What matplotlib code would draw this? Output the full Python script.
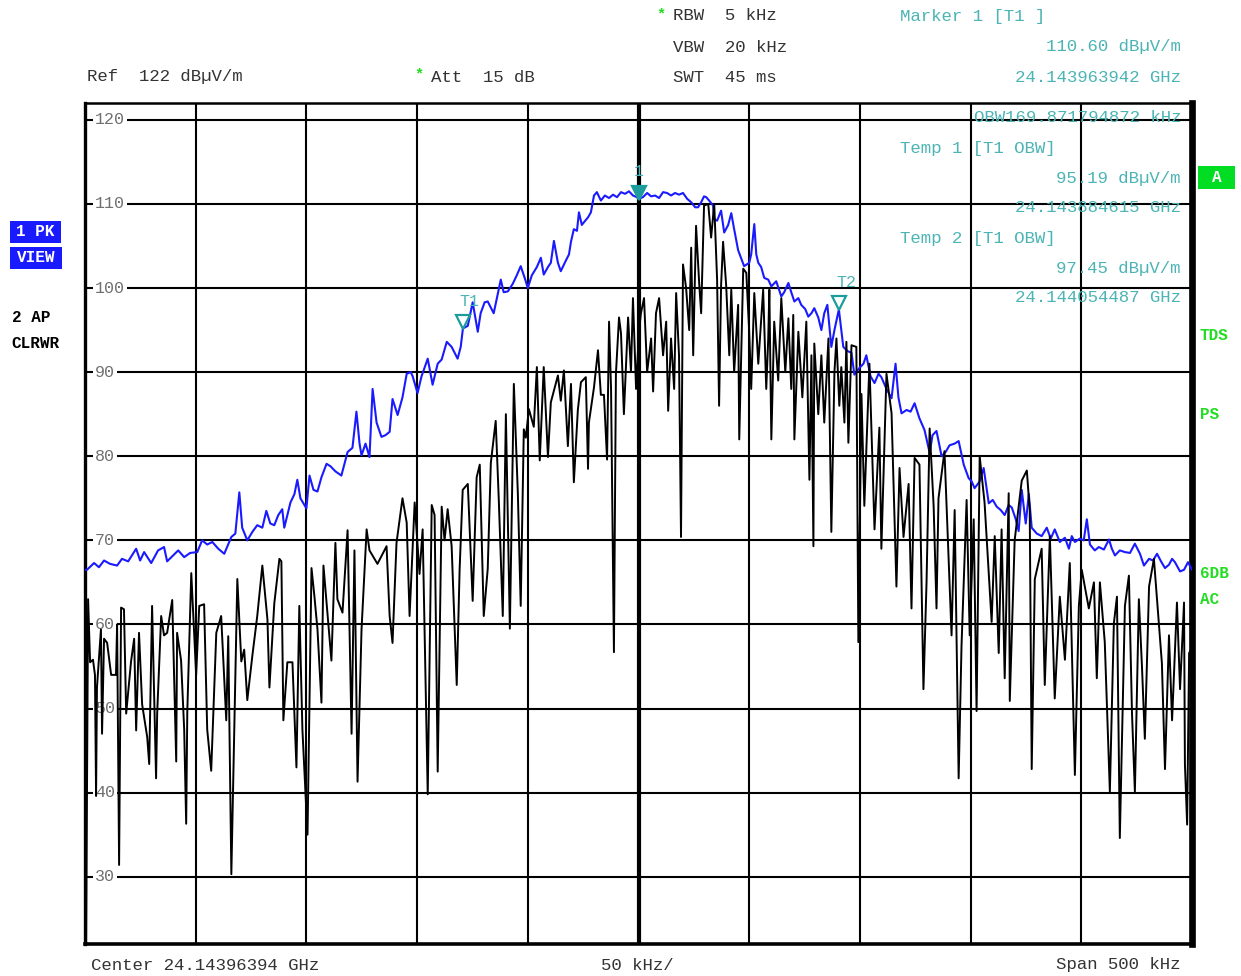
import matplotlib.pyplot as plt
from matplotlib.patches import Rectangle
from matplotlib import transforms

W, H = 1241, 976

CENTER_GHZ = 24.14396394
SPAN_KHZ = 500
REF_LEVEL = 122
Y_BOTTOM = 22
Y_TICKS = [30, 40, 50, 60, 70, 80, 90, 100, 110, 120]

# trace 1 (PK, view / max hold): offset from center in kHz and level in dBuV/m
pk_khz = [-250.0, -249.1, -245.9, -243.7, -241.4, -238.7, -235.5, -233.3, -230.5, -226.9,
          -225.1, -223.3, -220.1, -217.0, -214.3, -212.9, -210.2, -207.9, -205.2, -202.5,
          -199.3, -197.1, -194.8, -192.5, -189.8, -187.1, -183.9, -182.1, -180.3, -179.0,
          -176.7, -174.4, -172.2, -169.9, -168.1, -166.3, -164.5, -162.7, -160.9, -160.0,
          -157.2, -155.4, -154.1, -152.7, -150.0, -148.6, -146.8, -145.0, -143.2, -140.9,
          -139.1, -136.9, -134.2, -131.4, -129.2, -127.4, -126.0, -125.1, -123.3, -121.5,
          -120.1, -118.3, -116.1, -114.3, -112.4, -111.1, -108.8, -106.6, -104.7, -102.9,
          -102.0, -99.8, -98.0, -95.2, -93.0, -90.7, -88.9, -86.6, -84.4, -81.7,
          -80.3, -79.3, -77.1, -74.9, -72.6, -71.3, -69.5, -68.1, -65.4, -62.2,
          -60.9, -59.0, -56.8, -55.0, -53.2, -51.4, -50.0, -48.2, -45.9, -44.1,
          -42.8, -40.9, -39.6, -38.2, -36.4, -35.1, -33.3, -31.4, -30.5, -29.2,
          -27.8, -26.9, -25.6, -24.7, -22.8, -21.5, -20.1, -18.8, -17.0, -15.2,
          -13.3, -11.5, -9.7, -7.9, -6.1, -4.3, -2.5, -0.7, 0.0, 2.0,
          3.9, 5.7, 7.5, 9.3, 11.1, 12.9, 14.7, 16.5, 18.3, 20.1,
          22.0, 23.8, 25.6, 26.9, 28.3, 29.6, 30.6, 31.9, 33.7, 34.2,
          35.5, 37.3, 38.7, 40.5, 41.9, 43.2, 45.0, 46.4, 47.7, 50.0,
          50.9, 52.3, 53.2, 54.1, 55.4, 56.8, 58.6, 60.0, 62.2, 64.5,
          65.8, 67.7, 69.0, 70.4, 72.2, 73.5, 75.3, 76.7, 78.1, 79.4,
          81.2, 82.6, 83.9, 85.3, 87.1, 88.5, 90.5, 92.5, 94.4, 96.2,
          97.5, 99.8, 101.6, 102.9, 104.8, 106.6, 108.4, 109.7, 112.0, 114.3,
          116.1, 117.4, 118.8, 121.1, 122.9, 124.7, 126.9, 129.2, 131.5, 132.8,
          134.6, 136.9, 138.7, 140.5, 142.8, 144.6, 146.9, 149.1, 150.5, 151.8,
          154.1, 155.9, 157.3, 158.2, 160.0, 161.8, 163.6, 165.4, 167.2, 168.6,
          170.4, 171.7, 173.1, 174.9, 176.3, 177.6, 179.9, 182.1, 184.4, 186.2,
          188.0, 190.3, 192.6, 194.4, 195.7, 197.1, 199.3, 201.1, 202.5, 203.9,
          206.1, 207.9, 210.2, 212.5, 213.8, 215.2, 217.4, 219.7, 222.0, 224.2,
          226.5, 228.3, 230.6, 232.4, 234.2, 236.0, 237.8, 239.6, 241.0, 242.3,
          244.6, 246.4, 248.2, 250.0]
pk_dbuv = [66.5, 66.5, 67.3, 66.8, 67.6, 67.2, 67.0, 67.8, 67.5, 69.0,
           67.6, 68.6, 67.3, 68.8, 69.2, 67.5, 68.2, 68.8, 68.0, 68.5,
           68.6, 70.0, 69.5, 69.8, 69.0, 68.4, 70.4, 70.8, 75.7, 71.5,
           70.0, 71.0, 71.8, 71.5, 73.5, 72.0, 71.8, 73.0, 73.7, 71.5,
           74.5, 75.5, 77.2, 75.0, 73.8, 77.7, 76.0, 75.8, 77.5, 79.1,
           78.8, 78.2, 77.7, 80.5, 81.0, 85.3, 81.5, 80.1, 81.5, 79.9,
           88.0, 84.0, 82.3, 82.5, 82.9, 86.8, 84.9, 87.0, 89.8, 90.0,
           89.5, 87.5, 89.5, 91.6, 88.5, 91.0, 91.5, 93.6, 93.0, 91.6,
           93.0, 95.19, 95.5, 98.3, 94.8, 97.0, 98.3, 98.4, 97.0, 101.0,
           99.5, 99.6, 100.5, 101.5, 102.6, 101.2, 100.0, 101.5, 102.5, 103.6,
           101.6, 102.5, 103.0, 105.6, 103.0, 102.0, 103.0, 104.0, 105.5, 107.0,
           106.8, 109.0, 107.5, 107.8, 108.4, 109.0, 111.0, 111.4, 110.4, 111.0,
           110.7, 111.1, 110.8, 111.4, 111.2, 111.5, 111.0, 110.8, 110.6, 110.8,
           111.3, 110.9, 111.0, 110.7, 111.4, 111.3, 111.0, 111.3, 111.1, 111.3,
           110.6, 110.2, 109.6, 109.6, 110.2, 110.9, 110.8, 110.4, 109.8, 108.2,
           108.0, 109.2, 106.6, 107.5, 108.9, 107.0, 104.5, 103.5, 102.6, 103.0,
           104.0, 107.6, 104.0, 103.0, 102.5, 101.2, 101.0, 100.2, 100.8, 99.0,
           99.5, 100.6, 99.5, 98.4, 98.8, 98.0, 97.5, 96.6, 97.0, 97.6,
           96.5, 95.0, 97.0, 98.0, 93.0, 95.0, 97.45, 93.0, 92.5, 92.3,
           89.7, 90.5, 91.0, 92.0, 89.5, 88.7, 89.8, 89.4, 88.0, 86.9,
           91.0, 87.0, 85.1, 85.5, 85.3, 86.3, 84.5, 83.1, 80.4, 82.5,
           83.0, 80.0, 80.5, 81.3, 81.5, 81.8, 79.0, 77.4, 77.0, 76.2,
           77.0, 78.6, 76.0, 74.4, 74.8, 74.0, 73.6, 73.0, 74.2, 73.9,
           72.5, 71.1, 76.0, 72.0, 75.5, 71.5, 70.8, 70.5, 71.5, 70.2,
           71.3, 69.8, 70.3, 69.0, 70.5, 69.8, 70.2, 70.0, 72.5, 69.5,
           68.8, 69.2, 68.9, 70.1, 69.0, 68.2, 68.8, 68.6, 68.5, 69.6,
           68.4, 67.0, 67.8, 67.6, 68.4, 67.5, 66.7, 67.1, 67.8, 67.4,
           66.3, 66.5, 67.4, 66.5]

# trace 2 (AP, clear/write)
ap_khz = [-249.5, -248.6, -247.7, -246.4, -245.5, -245.0, -244.6, -242.8, -242.3, -241.4,
          -240.0, -238.2, -236.0, -235.5, -234.6, -233.7, -232.4, -231.4, -229.2, -227.8,
          -226.9, -225.6, -224.2, -221.9, -221.0, -219.7, -217.9, -217.4, -215.6, -214.3,
          -212.9, -210.6, -208.8, -208.4, -206.6, -205.2, -204.3, -203.8, -202.0, -199.8,
          -198.4, -196.2, -194.8, -193.0, -190.7, -188.5, -186.2, -185.3, -183.9, -181.2,
          -179.4, -178.1, -176.7, -174.4, -172.2, -169.9, -167.6, -166.7, -164.5, -162.2,
          -161.3, -160.4, -158.6, -156.3, -154.5, -153.2, -151.8, -149.5, -147.7, -146.4,
          -145.0, -143.2, -142.3, -138.7, -136.9, -136.0, -133.7, -131.4, -129.6, -128.3,
          -126.9, -125.1, -122.8, -121.5, -117.9, -113.8, -112.4, -111.1, -109.3, -106.6,
          -104.7, -103.4, -101.1, -98.9, -97.5, -95.2, -93.4, -92.1, -90.7, -88.9,
          -87.6, -86.2, -84.4, -82.1, -80.8, -79.4, -77.1, -74.9, -73.1, -71.7,
          -69.9, -68.1, -66.7, -64.5, -63.1, -61.3, -59.9, -58.1, -56.3, -54.5,
          -53.2, -51.8, -50.9, -49.5, -47.3, -45.9, -44.6, -42.8, -40.9, -39.6,
          -36.4, -35.1, -33.7, -31.9, -30.5, -29.2, -27.4, -26.0, -23.8, -22.8,
          -22.4, -20.1, -18.3, -17.0, -15.6, -14.2, -13.3, -12.4, -11.1, -10.2,
          -8.8, -7.9, -6.6, -4.7, -3.4, -2.5, -1.1, 0.2, 1.1, 2.5,
          3.9, 5.7, 6.6, 7.9, 9.3, 11.1, 12.5, 13.4, 14.7, 16.1,
          17.0, 18.3, 19.2, 20.1, 21.5, 22.9, 23.8, 24.7, 26.0, 27.4,
          28.3, 29.6, 31.5, 32.8, 34.2, 35.5, 36.4, 37.3, 38.2, 39.6,
          41.0, 41.9, 43.2, 45.0, 45.5, 47.3, 48.7, 50.0, 50.9, 52.3,
          54.1, 56.3, 57.7, 58.6, 59.1, 60.0, 61.3, 63.1, 64.5, 66.3,
          67.7, 69.0, 69.9, 70.4, 72.2, 74.0, 75.8, 77.2, 78.1, 79.0,
          79.4, 81.2, 82.6, 83.9, 85.8, 87.1, 88.5, 89.4, 90.7, 91.6,
          93.0, 93.9, 94.8, 96.2, 98.4, 99.3, 100.7, 102.0, 104.3, 106.6,
          108.8, 109.7, 112.0, 114.3, 116.5, 117.9, 119.7, 122.0, 123.3, 124.7,
          126.9, 128.7, 130.1, 131.5, 133.3, 134.6, 135.5, 138.2, 141.4, 142.8,
          144.6, 145.9, 148.2, 149.6, 151.4, 152.7, 154.1, 156.3, 159.5, 160.9,
          162.7, 164.0, 165.4, 167.2, 167.7, 169.9, 173.1, 175.4, 176.7, 177.6,
          179.0, 182.1, 183.5, 185.8, 188.0, 190.3, 192.6, 194.8, 197.1, 198.9,
          200.2, 203.4, 205.7, 207.0, 208.4, 210.6, 212.9, 214.7, 216.1, 217.4,
          219.7, 221.5, 222.9, 224.2, 226.0, 227.4, 228.7, 230.6, 232.8, 234.2,
          236.4, 237.8, 239.6, 241.0, 243.2, 244.6, 246.4, 246.8, 247.8, 248.7,
          249.6]
ap_dbuv = [22.0, 63.0, 55.5, 55.8, 54.0, 39.6, 52.5, 59.4, 47.0, 58.3,
           57.8, 54.0, 54.0, 60.0, 31.4, 62.0, 61.8, 49.4, 55.6, 58.3,
           47.4, 59.0, 50.5, 46.6, 43.4, 62.2, 41.7, 49.4, 61.0, 58.7,
           59.0, 62.9, 43.7, 59.0, 55.7, 47.5, 36.3, 49.6, 66.1, 54.0,
           62.2, 62.4, 47.5, 42.6, 59.0, 61.0, 48.6, 58.6, 30.3, 65.4,
           55.6, 57.0, 51.0, 56.3, 61.0, 67.0, 60.6, 52.5, 62.5, 67.8,
           67.5, 48.6, 55.5, 55.5, 43.0, 62.2, 47.5, 35.0, 66.7, 63.4,
           59.4, 50.7, 67.0, 55.7, 69.7, 63.0, 61.4, 71.2, 47.0, 68.8,
           41.3, 59.4, 71.3, 68.8, 67.2, 69.3, 61.0, 57.8, 69.7, 75.0,
           72.1, 61.0, 74.5, 66.0, 71.3, 39.8, 74.2, 73.0, 42.5, 74.0,
           70.0, 73.7, 69.3, 52.8, 66.5, 76.0, 76.7, 62.8, 77.5, 79.0,
           61.0, 66.6, 79.2, 84.2, 74.8, 61.0, 85.0, 59.5, 88.6, 75.6,
           62.2, 83.2, 82.2, 85.6, 83.5, 90.6, 79.5, 90.6, 79.9, 86.4,
           89.6, 86.6, 90.2, 81.2, 88.6, 76.9, 85.5, 88.8, 89.4, 78.5,
           84.0, 88.2, 92.6, 87.3, 87.3, 79.6, 96.0, 88.0, 56.7, 89.8,
           96.5, 94.6, 85.0, 96.5, 90.0, 98.8, 88.0, 94.8, 97.0, 98.8,
           90.0, 94.0, 87.7, 97.0, 98.8, 92.0, 96.0, 85.4, 94.0, 88.0,
           99.4, 92.0, 70.4, 102.8, 100.0, 95.0, 104.8, 92.0, 107.4, 100.6,
           97.0, 109.8, 110.0, 106.0, 110.0, 101.0, 86.0, 100.3, 105.5, 100.3,
           92.0, 99.8, 90.0, 98.0, 82.0, 102.3, 101.8, 94.8, 88.0, 99.4,
           91.0, 99.8, 88.0, 94.0, 99.8, 82.0, 96.0, 89.0, 98.8, 90.0,
           96.4, 88.0, 96.8, 82.0, 94.8, 87.0, 96.0, 77.2, 92.0, 69.3,
           93.4, 85.0, 92.0, 84.0, 94.0, 71.0, 90.0, 94.0, 86.0, 90.6,
           84.0, 93.6, 81.6, 93.2, 93.0, 57.9, 87.4, 74.1, 91.0, 71.3,
           83.4, 69.0, 89.8, 85.1, 64.5, 78.6, 70.4, 76.7, 61.9, 79.8,
           79.0, 52.3, 65.0, 83.3, 74.1, 61.9, 75.0, 80.6, 58.7, 73.6,
           41.7, 57.5, 74.8, 58.7, 72.5, 49.7, 80.0, 74.5, 60.3, 70.5,
           56.6, 71.3, 53.6, 75.6, 50.9, 70.0, 77.1, 78.3, 73.6, 42.8,
           65.4, 69.0, 52.8, 70.5, 51.2, 63.3, 55.8, 67.3, 42.1, 62.2,
           66.5, 61.9, 65.0, 53.6, 65.0, 57.9, 40.1, 60.1, 63.3, 34.6,
           62.2, 65.8, 49.4, 40.1, 63.0, 55.0, 46.4, 64.5, 67.8, 63.0,
           55.4, 42.8, 58.7, 48.6, 62.6, 52.3, 62.6, 43.4, 36.2, 56.6,
           57.0]

# marker readout (frequency in GHz, level in dBuV/m)
marker_names = ["1", "T1", "T2"]
marker_ghz = [24.143963942, 24.143884615, 24.144054487]
marker_dbuv = [110.60, 95.19, 97.45]
obw_khz = 169.871794872

MONO = "Liberation Mono"
TEAL = "#4cb4b4"
MARK = "#1c9c9c"
GREEN = "#22dd22"
BLUE = "#1a1aff"
INK = "#333333"


def fig_text(fig, x, y, s, **kw):
    # x, y in pixels from the top-left corner of the figure
    kw.setdefault("family", MONO)
    kw.setdefault("fontsize", 12.5)
    kw.setdefault("va", "center")
    fig.text(x / W, 1 - y / H, s, **kw)


def fig_box(fig, x0, y0, x1, y1, color):
    fig.add_artist(Rectangle((x0 / W, 1 - y1 / H), (x1 - x0) / W, (y1 - y0) / H,
                             transform=fig.transFigure, facecolor=color,
                             edgecolor="none"))


def main():
    fig = plt.figure(figsize=(W / 100, H / 100), dpi=100)
    ax = fig.add_axes([85 / W, 1 - 944 / H, 1107 / W, 841 / H])

    half = SPAN_KHZ / 2
    ax.set_xlim(-half, half)
    ax.set_ylim(Y_BOTTOM, REF_LEVEL)
    ax.set_xticks([])
    ax.set_yticks([])

    # 10 x 10 graticule, center line drawn heavier
    step = SPAN_KHZ / 10
    for i in range(1, 10):
        f = -half + i * step
        ax.axvline(f, color="black", lw=3.0 if i == 5 else 1.5, zorder=1)
    for lvl in Y_TICKS:
        ax.axhline(lvl, color="black", lw=1.5, zorder=1)
        ax.text(-245.6, lvl, "%d" % lvl, family=MONO, fontsize=12, color="#707070",
                va="center", ha="left", zorder=2,
                bbox=dict(facecolor="white", edgecolor="none", pad=1.5))

    for side, lw in [("left", 2.4), ("right", 4.8), ("top", 1.8), ("bottom", 2.6)]:
        ax.spines[side].set_linewidth(lw)

    ax.plot(pk_khz, pk_dbuv, color=BLUE, lw=1.5, zorder=3)
    ax.plot(ap_khz, ap_dbuv, color="black", lw=1.4, zorder=4)

    # markers: filled normal marker, hollow OBW temp markers; tip sits on the level
    tip = transforms.offset_copy(ax.transData, fig=fig, x=0, y=6, units="dots")
    for name, ghz, lvl in zip(marker_names, marker_ghz, marker_dbuv):
        f = (ghz - CENTER_GHZ) * 1e6
        filled = name == "1"
        ax.plot([f], [lvl], marker="v", ms=9.5, transform=tip, zorder=6,
                markerfacecolor=MARK if filled else "none",
                markeredgecolor=MARK, mew=1.6)
        dx = 0 if filled else 7
        ax.annotate(name, (f, lvl), xytext=(dx, 27), textcoords="offset pixels",
                    ha="center", va="center", family=MONO, fontsize=12,
                    color=TEAL, zorder=6)

    # header settings
    fig_text(fig, 87, 77, "Ref  %d dBµV/m" % REF_LEVEL, color=INK)
    fig_text(fig, 419, 74, "*", color=GREEN, fontsize=11, ha="center", weight="bold")
    fig_text(fig, 431, 77, "Att  15 dB", color=INK)
    fig_text(fig, 661, 14, "*", color=GREEN, fontsize=11, ha="center", weight="bold")
    fig_text(fig, 673, 16, "RBW  5 kHz", color=INK)
    fig_text(fig, 673, 47, "VBW  20 kHz", color=INK)
    fig_text(fig, 673, 77, "SWT  45 ms", color=INK)

    # marker readout, right column
    m1 = marker_names.index("1")
    t1 = marker_names.index("T1")
    t2 = marker_names.index("T2")
    rx = 1181
    fig_text(fig, 900, 17, "Marker 1 [T1 ]", color=TEAL)
    fig_text(fig, rx, 47, "%.2f dBµV/m" % marker_dbuv[m1], color=TEAL, ha="right")
    fig_text(fig, rx, 77, "%.9f GHz" % marker_ghz[m1], color=TEAL, ha="right")
    fig_text(fig, rx, 118, "OBW%.9f kHz" % obw_khz, color=TEAL, ha="right")
    fig_text(fig, 900, 148, "Temp 1 [T1 OBW]", color=TEAL)
    fig_text(fig, rx, 178, "%.2f dBµV/m" % marker_dbuv[t1], color=TEAL, ha="right")
    fig_text(fig, rx, 208, "%.9f GHz" % marker_ghz[t1], color=TEAL, ha="right")
    fig_text(fig, 900, 238, "Temp 2 [T1 OBW]", color=TEAL)
    fig_text(fig, rx, 268, "%.2f dBµV/m" % marker_dbuv[t2], color=TEAL, ha="right")
    fig_text(fig, rx, 298, "%.9f GHz" % marker_ghz[t2], color=TEAL, ha="right")

    # trace status on the left
    fig_box(fig, 10, 221, 61, 243, BLUE)
    fig_box(fig, 10, 247, 62, 269, BLUE)
    fig_text(fig, 35.5, 232, "1 PK", color="white", weight="bold", ha="center", fontsize=11.5)
    fig_text(fig, 36, 258, "VIEW", color="white", weight="bold", ha="center", fontsize=11.5)
    fig_text(fig, 12, 318, "2 AP", color="black", weight="bold", fontsize=11.5)
    fig_text(fig, 11, 344, "CLRWR", color="black", weight="bold", fontsize=11.5)

    # status flags on the right
    fig_box(fig, 1198, 166, 1235, 189, "#00dd22")
    fig_text(fig, 1216.5, 177.5, "A", color="white", weight="bold", ha="center", fontsize=11.5)
    for label, y in [("TDS", 336), ("PS", 415), ("6DB", 573), ("AC", 600)]:
        fig_text(fig, 1200, y, label, color=GREEN, weight="bold", fontsize=11.5)

    # frequency axis annotation
    fig_text(fig, 91, 965, "Center %.8f GHz" % CENTER_GHZ, color=INK)
    fig_text(fig, 637, 965, "%d kHz/" % step, color=INK, ha="center")
    fig_text(fig, 1180, 965, "Span %d kHz" % SPAN_KHZ, color=INK, ha="right")

    fig.savefig("out.png", dpi=100, facecolor="white")


if __name__ == "__main__":
    main()
